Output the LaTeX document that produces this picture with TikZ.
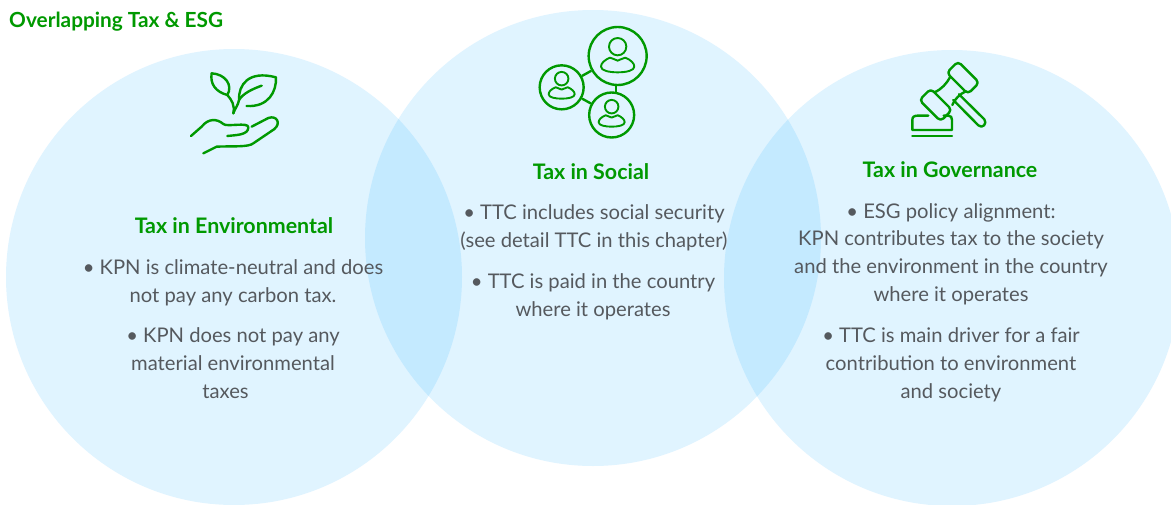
\documentclass[tikz,border=0pt]{standalone}
\usepackage{fontspec}
\setmainfont{Lato}
\definecolor{kgreen}{HTML}{009900}
\definecolor{ktext}{HTML}{55595E}
\definecolor{kcircle}{HTML}{E0F4FF}
\definecolor{koverlap}{HTML}{C4EAFF}
\tikzset{
  icon/.style={draw=kgreen,line width=2.4pt,line cap=round,line join=round},
  thinicon/.style={icon,line width=1.9pt},
  body/.style={text=ktext,font=\fontsize{20.2}{27.8}\selectfont,align=center,inner sep=0pt,anchor=center},
  heading/.style={text=kgreen,font=\fontsize{21.4}{24}\selectfont\bfseries,inner sep=0pt,anchor=center},
  ring/.style={circle,icon,inner sep=0pt},
  person/.pic={
    \draw[thinicon] (0,0) circle (26);
    \draw[thinicon] (-23,33) .. controls (-40,40) and (-50,50) .. (-50,60)
      .. controls (-50,72) and (-25,77) .. (0,77)
      .. controls (25,77) and (50,72) .. (50,60)
      .. controls (50,50) and (40,40) .. (23,33)
      .. controls (15,36) and (8,38) .. (0,42)
      .. controls (-8,38) and (-15,36) .. (-23,33) -- cycle;
  },
  block/.style={icon,rectangle,rounded corners=4pt,rotate=-45,inner sep=0pt,minimum width=30pt,minimum height=16pt}
}
\begin{document}
\begin{tikzpicture}[x=1pt,y=-1pt]
\useasboundingbox (0,0) rectangle (1171,504);
\fill[white] (0,0) rectangle (1171,504);
\begin{scope}
  \clip (0,0) rectangle (1171,504);
  \fill[kcircle] (234,277) circle (228);
  \fill[kcircle] (593,238) circle (228);
  \fill[kcircle] (952,278) circle (228);
  \begin{scope}
    \clip (234,277) circle (228);
    \fill[koverlap] (593,238) circle (228);
  \end{scope}
  \begin{scope}
    \clip (593,238) circle (228);
    \fill[koverlap] (952,278) circle (228);
  \end{scope}
\end{scope}

\node[anchor=west,inner sep=0pt,text=kgreen,font=\fontsize{20.8}{24}\selectfont\bfseries] (title) at (9,21.5) {Overlapping Tax \& ESG};

% plant icon
\begin{scope}[shift={(170,50)},x=0.3333pt,y=-0.3333pt]
  \draw[icon] (125,70) .. controls (120,100) and (135,125) .. (172,135)
     .. controls (190,105) and (165,72) .. (125,70) -- cycle;
  \draw[icon] (172,135) .. controls (185,150) and (195,165) .. (190,190);
  \draw[icon] (190,190) .. controls (195,175) and (205,165) .. (207,150)
     .. controls (205,105) and (235,60) .. (318,82)
     .. controls (320,125) and (295,172) .. (230,168);
  \draw[icon] (207,150) .. controls (220,130) and (245,118) .. (275,107);
  \draw[icon] (63,258) -- (95,230) .. controls (115,205) and (140,205) .. (160,222)
     .. controls (170,232) and (235,215) .. (235,232)
     .. controls (235,255) and (200,255) .. (172,258);
  \draw[icon] (245,230) -- (295,204) .. controls (320,195) and (335,220) .. (312,238)
     -- (250,280) .. controls (235,292) and (190,288) .. (140,290) -- (100,310);
\end{scope}

% people icon
\begin{scope}[shift={(525,15)},x=0.3333pt,y=-0.3333pt]
  \node[ring,minimum size=58pt] (big) at (278,123) {};
  \node[ring,minimum size=44pt] (lft) at (110,217) {};
  \node[ring,minimum size=45pt] (low) at (260,300) {};
  \coordinate (bl) at (273,210);
  \coordinate (lw) at (273,235);
  \draw[icon,line cap=butt] (big) -- (lft);
  \draw[icon,line cap=butt] (lft) -- (low);
  \draw[icon,line cap=butt] (bl) -- (lw);
  \path (278,95) pic {person};
  \path (110,191) pic[x=0.26pt,y=-0.26pt] {person};
  \path (260,275) pic[x=0.26pt,y=-0.26pt] {person};
\end{scope}

% gavel icon
\begin{scope}[shift={(895,50)},x=0.3333pt,y=-0.3333pt]
  \node[block] (hl) at (122,165) {};
  \node[block] (hr) at (204,83) {};
  \draw[icon] (118,127) .. controls (140,118) and (155,100) .. (165,82);
  \draw[icon] (172,165) .. controls (178,148) and (195,132) .. (212,124);
  \draw[icon] (192,133) -- (268,208) .. controls (278,220) and (262,238) .. (250,226) -- (175,150);
  \draw[icon] (100,197) -- (68,197) .. controls (58,197) and (52,200) .. (52,210) -- (52,240) -- (171,240)
     -- (171,210) .. controls (171,202) and (168,197) .. (160,197) -- (146,197);
  \draw[icon] (52,258) -- (171,258);
\end{scope}

\node[heading] (h1) at (234,226) {Tax in Environmental};
\node[body] (e1) at (233,283) {• KPN is climate-neutral and does\\not pay any carbon tax.};
\node[body] (e2) at (233,363) {• KPN does not pay any\\material environmental\\taxes\hspace*{15pt}};

\node[heading] (h2) at (591,172) {Tax in Social};
\node[body] (s1) at (594,228) {• TTC includes social security\\(see detail TTC in this chapter)};
\node[body] (s2) at (593,297) {• TTC is paid in the country\\where it operates};

\node[heading] (h3) at (950,170) {Tax in Governance};
\node[body] (g1) at (951,254) {• ESG policy alignment:\\KPN contributes tax to the society\\and the environment in the country\\where it operates};
\node[body] (g2) at (951,365) {• TTC is main driver for a fair\\contribution to environment\\and society};
\end{tikzpicture}
\end{document}
